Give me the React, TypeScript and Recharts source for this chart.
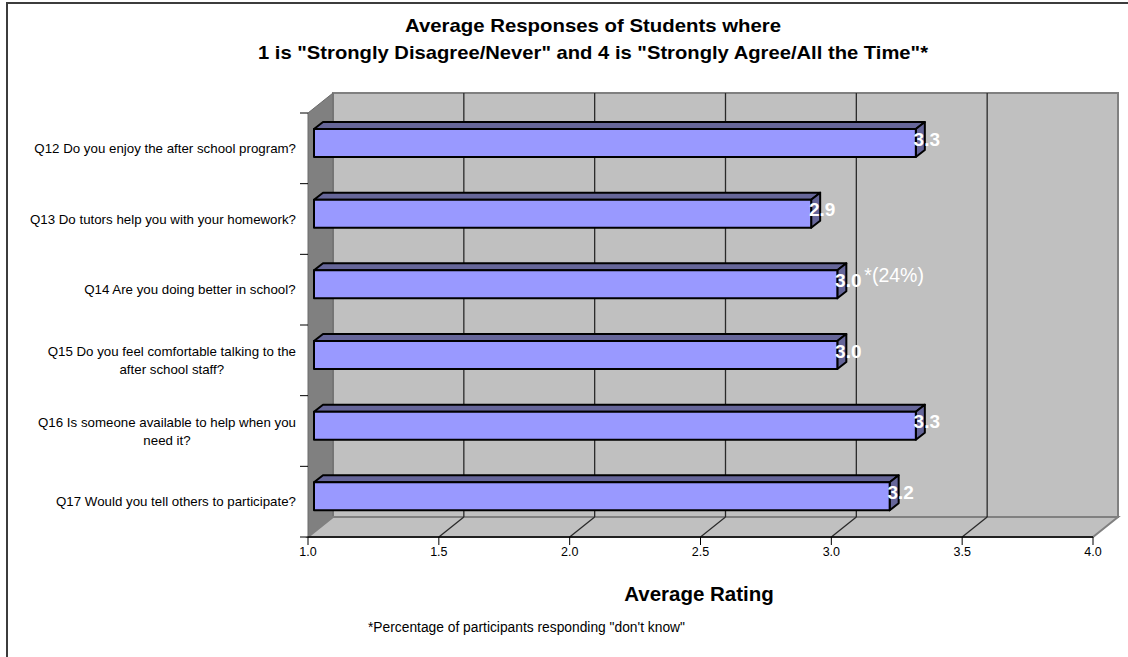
import React from "react";
import {
  BarChart,
  Bar,
  XAxis,
  YAxis,
  ReferenceArea,
  ReferenceLine,
  LabelList,
} from "recharts";

const categories = [
  "Q12 Do you enjoy the after school program?",
  "Q13 Do tutors help you with your homework?",
  "Q14 Are you doing better in school?",
  "Q15 Do you feel comfortable talking to the\nafter school staff?",
  "Q16 Is someone available to help when you\nneed it?",
  "Q17 Would you tell others to participate?",
];
const averages = [3.3, 2.9, 3.0, 3.0, 3.3, 3.2];
const dontKnowNotes = ["", "", "*(24%)", "", "", ""];
const ratingTicks = [1, 1.5, 2, 2.5, 3, 3.5, 4];
const gridTicks = [1.5, 2, 2.5, 3, 3.5];

const data = categories.map((question, i) => ({
  question,
  average: averages[i],
  note: dontKnowNotes[i],
}));

const FONT = "Arial, 'Liberation Sans', Helvetica, sans-serif";
// 3d depth of the walls, and of the bar prisms
const WALL = { dx: 25, dy: -20 };
const BAR_OFF = { dx: 6, dy: -5 };
const BAR_D = { dx: 9, dy: -7 };

let measureCtx: CanvasRenderingContext2D | null = null;
const textWidth = (s: string, font: string) => {
  if (!measureCtx) measureCtx = document.createElement("canvas").getContext("2d");
  if (!measureCtx) return s.length * 6;
  measureCtx.font = font;
  return measureCtx.measureText(s).width;
};

const Walls = (props: any) => {
  const { x, y, width, height } = props;
  const b = y + height;
  return (
    <g>
      <rect x={x + WALL.dx} y={y + WALL.dy} width={width} height={height} fill="#c0c0c0" stroke="#808080" strokeWidth={2} />
      <polygon
        points={`${x},${y} ${x + WALL.dx},${y + WALL.dy} ${x + WALL.dx},${b + WALL.dy} ${x},${b}`}
        fill="#808080"
        stroke="#6a6a6a"
        strokeWidth={1}
      />
      <polygon
        points={`${x},${b} ${x + WALL.dx},${b + WALL.dy} ${x + width + WALL.dx},${b + WALL.dy} ${x + width},${b}`}
        fill="#c0c0c0"
        stroke="#808080"
        strokeWidth={2}
      />
    </g>
  );
};

const WallGridLine = (props: any) => {
  const { x1, y1, x2, y2 } = props;
  const top = Math.min(y1, y2);
  const bot = Math.max(y1, y2);
  return (
    <g stroke="#2a2a2a" strokeWidth={1.3}>
      <line x1={x1 + WALL.dx} y1={top + WALL.dy} x2={x2 + WALL.dx} y2={bot + WALL.dy} />
      <line x1={x2} y1={bot} x2={x2 + WALL.dx} y2={bot + WALL.dy} />
    </g>
  );
};

const Bar3D = (props: any) => {
  const { x, y, width, height } = props;
  const fx = x + BAR_OFF.dx;
  const fy = y + BAR_OFF.dy;
  const r = fx + width;
  return (
    <g stroke="#000" strokeWidth={2} strokeLinejoin="round">
      <polygon
        points={`${fx},${fy} ${fx + BAR_D.dx},${fy + BAR_D.dy} ${r + BAR_D.dx},${fy + BAR_D.dy} ${r},${fy}`}
        fill="#666699"
      />
      <polygon
        points={`${r},${fy} ${r + BAR_D.dx},${fy + BAR_D.dy} ${r + BAR_D.dx},${fy + height + BAR_D.dy} ${r},${fy + height}`}
        fill="#666699"
      />
      <rect x={fx} y={fy} width={width} height={height} fill="#9999ff" />
    </g>
  );
};

const ValueLabel = (props: any) => {
  const { x, y, width, height, index } = props;
  const cx = x + width + 17;
  const mid = y + height / 2;
  const note = data[index]?.note;
  return (
    <g>
      <text x={cx} y={mid - 2.5} textAnchor="middle" fill="#fff" fontFamily={FONT} fontSize={19} fontWeight="bold">
        {averages[index].toFixed(1)}
      </text>
      {note ? (
        <text x={cx + 16} y={mid - 7} textAnchor="start" fill="#fff" fontFamily={FONT} fontSize={19.5}>
          {note}
        </text>
      ) : null}
    </g>
  );
};

const CategoryTick = (props: any) => {
  const { x, y, payload, index } = props;
  const lines = String(payload.value).split("\n");
  const font = `13.3px ${FONT}`;
  const maxW = Math.max(...lines.map((l) => textWidth(l, font)));
  const right = x;
  const axisX = x + 12;
  const off = payload.offset ?? 35;
  const lh = 18;
  const startY = y - ((lines.length - 1) * lh) / 2;
  return (
    <g>
      <line x1={axisX - 8} y1={y - off} x2={axisX} y2={y - off} stroke="#000" />
      {index === categories.length - 1 ? (
        <line x1={axisX - 8} y1={y + off} x2={axisX} y2={y + off} stroke="#000" />
      ) : null}
      {lines.map((l, i) => (
        <text
          key={i}
          x={right - maxW / 2}
          y={startY + i * lh}
          dy="0.35em"
          textAnchor="middle"
          fill="#000"
          fontFamily={FONT}
          fontSize={13.3}
        >
          {l}
        </text>
      ))}
    </g>
  );
};

export default function App() {
  return (
    <div style={{ position: "absolute", left: 0, top: 0, width: 1128, height: 657, overflow: "hidden", background: "#fff" }}>
      <div
        style={{
          position: "absolute",
          left: 6,
          top: 2,
          width: 1200,
          height: 700,
          border: "2px solid #3c3c3c",
        }}
      />
      <div style={{ position: "absolute", left: 0, top: 0 }}>
        <BarChart
          width={1128}
          height={657}
          data={data}
          layout="vertical"
          margin={{ top: 113, right: 35, bottom: 90, left: 8 }}
          barCategoryGap={0}
        >
          <XAxis
            type="number"
            domain={[1, 4]}
            ticks={ratingTicks}
            interval={0}
            height={30}
            tickSize={8}
            tickFormatter={(v: number) => v.toFixed(1)}
            axisLine={{ stroke: "#000", strokeWidth: 1.5 }}
            tickLine={{ stroke: "#000" }}
            tick={{ fill: "#000", fontSize: 12.5, fontFamily: FONT }}
          />
          <YAxis
            type="category"
            dataKey="question"
            width={300}
            axisLine={false}
            tickLine={false}
            tickSize={0}
            tickMargin={12}
            interval={0}
            tick={<CategoryTick />}
          />
          <ReferenceArea x1={1} x2={4} shape={<Walls />} zIndex={-100} />
          {gridTicks.map((t) => (
            <ReferenceLine key={t} x={t} shape={<WallGridLine />} zIndex={-90} />
          ))}
          <Bar dataKey="average" barSize={28} shape={<Bar3D />} isAnimationActive={false}>
            <LabelList dataKey="average" content={<ValueLabel />} />
          </Bar>
        </BarChart>
      </div>
      <svg width={1128} height={657} style={{ position: "absolute", left: 0, top: 0, pointerEvents: "none" }}>
        <g fontFamily={FONT} fill="#000">
          <text x={593} y={32} textAnchor="middle" fontSize={19} fontWeight="bold" textLength={376} lengthAdjust="spacingAndGlyphs">
            Average Responses of Students where
          </text>
          <text x={593} y={59} textAnchor="middle" fontSize={19} fontWeight="bold" textLength={670} lengthAdjust="spacingAndGlyphs">
            1 is "Strongly Disagree/Never" and 4 is "Strongly Agree/All the Time"*
          </text>
          <text x={699} y={601} textAnchor="middle" fontSize={20.5} fontWeight="bold">
            Average Rating
          </text>
          <text x={368} y={632} textAnchor="start" fontSize={13.8}>
            *Percentage of participants responding "don't know"
          </text>
        </g>
      </svg>
    </div>
  );
}
